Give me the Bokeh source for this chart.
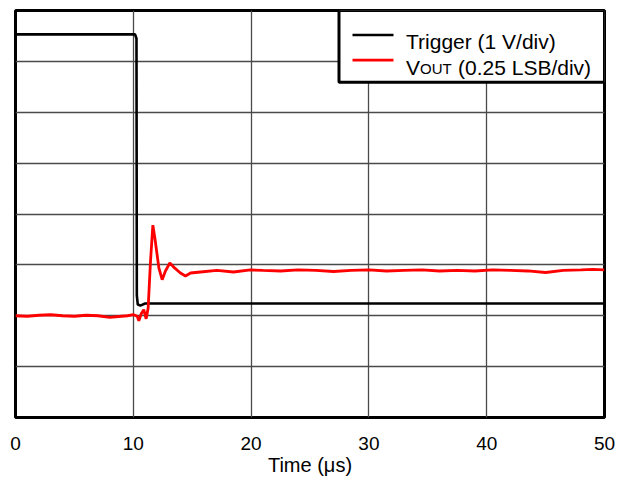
from bokeh.plotting import figure
from bokeh.models import Range1d, FixedTicker, Label
from bokeh.embed import file_html
from bokeh.resources import INLINE

# ---- data ----
trig_t = [0, 10.15, 10.27, 10.30, 10.38, 10.6, 11.0, 50]
trig_v = [7.53, 7.53, 7.45, 2.40, 2.22, 2.20, 2.24, 2.24]

vout_t = [0, 1, 2, 3, 4, 5, 6, 7, 8, 9, 9.5, 10.04, 10.33, 10.47, 10.67, 10.89,
          11.09, 11.26, 11.46, 11.66, 11.83, 12.17, 12.45, 12.73, 13.10, 13.50,
          14.0, 14.43, 14.86, 15.7, 17.1, 18.5, 19.95, 21, 22.5, 24, 25.5, 27,
          28.5, 30, 31.5, 33, 34.5, 36, 37.5, 39, 40.5, 42, 43.5, 45, 46.5, 48,
          49, 50]
vout_v = [2.00, 1.99, 2.01, 2.02, 2.00, 1.99, 2.01, 2.00, 1.97, 1.99, 2.00, 2.02,
          1.99, 1.90, 2.04, 2.12, 1.94, 2.15, 3.07, 3.78, 3.53, 2.94, 2.71, 2.88,
          3.04, 2.94, 2.84, 2.78, 2.84, 2.86, 2.89, 2.86, 2.90, 2.89, 2.88, 2.90,
          2.89, 2.87, 2.89, 2.90, 2.88, 2.89, 2.90, 2.88, 2.89, 2.88, 2.90, 2.89,
          2.88, 2.85, 2.89, 2.90, 2.91, 2.90]

x_ticks = [0, 10, 20, 30, 40, 50]
y_divs = [0, 1, 2, 3, 4, 5, 6, 7, 8]
x_label = "Time (\u03bcs)"
legend_labels = ["Trigger (1 V/div)", "V", "OUT", "(0.25 LSB/div)"]

FONT = "Liberation Sans"

p = figure(width=618, height=478, output_backend="svg", toolbar_location=None,
           x_range=Range1d(0, 50), y_range=Range1d(0, 8),
           min_border_left=15, min_border_right=14, min_border_top=10,
           min_border_bottom=10)
p.background_fill_color = "white"
p.border_fill_color = "white"
p.outline_line_color = "black"
p.outline_line_width = 3

p.yaxis.visible = False
p.xaxis.ticker = FixedTicker(ticks=x_ticks)
p.xaxis.axis_line_color = None
p.xaxis.major_tick_line_color = None
p.xaxis.minor_tick_line_color = None
p.xaxis.major_label_standoff = 13
p.xaxis.major_label_text_font = FONT
p.xaxis.major_label_text_font_size = "19px"
p.xaxis.major_label_text_color = "black"
p.xaxis.axis_label = x_label
p.xaxis.axis_label_text_font = FONT
p.xaxis.axis_label_text_font_size = "20px"
p.xaxis.axis_label_text_font_style = "normal"
p.xaxis.axis_label_text_color = "black"
p.xaxis.axis_label_standoff = 1

p.xgrid.ticker = FixedTicker(ticks=x_ticks)
p.ygrid.ticker = FixedTicker(ticks=y_divs)
for g in (p.xgrid[0], p.ygrid[0]):
    g.grid_line_color = "#4a4a4a"
    g.grid_line_width = 1.3

p.line(trig_t, trig_v, line_color="black", line_width=2.6)
p.line(vout_t, vout_v, line_color="#ff0000", line_width=2.8)

# ---- manual legend (positions via screen-pixel -> data conversion) ----
def dx(px):
    return (px - 15) / 589 * 50

def dy(py):
    return (416 - py) / 50.75

p.quad(left=[dx(338.5)], right=[50], top=[8], bottom=[dy(81.5)],
       fill_color="white", fill_alpha=1.0, line_color="black", line_width=3)

p.line([dx(352), dx(393)], [dy(34.5), dy(34.5)], line_color="black", line_width=2.6)
p.line([dx(352), dx(393)], [dy(59.5), dy(59.5)], line_color="#ff0000", line_width=2.8)

p.add_layout(Label(x=dx(405.5), y=dy(41), text=legend_labels[0],
                   text_font=FONT, text_font_size="21px", text_baseline="alphabetic",
                   text_color="black"))
p.add_layout(Label(x=dx(405.5), y=dy(67), text=legend_labels[1],
                   text_font=FONT, text_font_size="21px", text_baseline="alphabetic",
                   text_color="black"))
p.add_layout(Label(x=dx(419.5), y=dy(67.5), text=legend_labels[2],
                   text_font=FONT, text_font_size="15px", text_baseline="alphabetic",
                   text_color="black"))
p.add_layout(Label(x=dx(457.5), y=dy(67), text=legend_labels[3],
                   text_font=FONT, text_font_size="21px", text_baseline="alphabetic",
                   text_color="black"))

open("out.html", "w").write(file_html(p, INLINE))
